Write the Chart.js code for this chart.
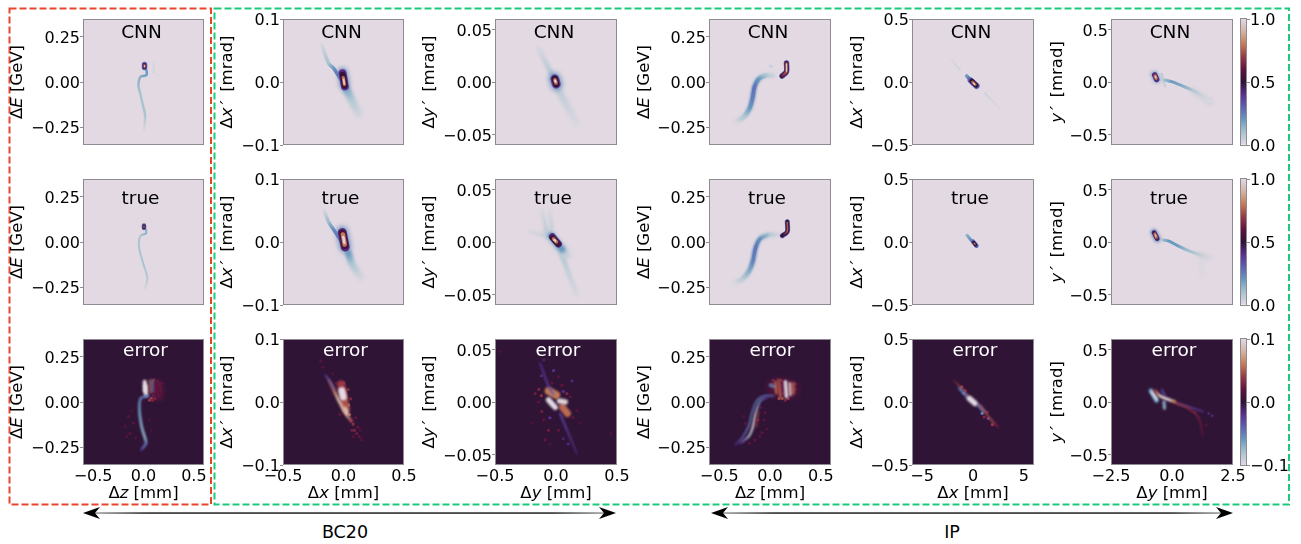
<!DOCTYPE html>
<html>
<head>
<meta charset="utf-8">
<script src="https://cdn.jsdelivr.net/npm/chart.js@4"></script>
<style>
  html, body { margin: 0; padding: 0; background: #fff; overflow: hidden; }
  #page { position: relative; width: 1301px; height: 544px; font-family: "DejaVu Sans", sans-serif; }
  #page canvas { position: absolute; }
  #frames { position: absolute; left: 0; top: 0; }
  .region { position: absolute; top: 522px; font-size: 17.5px; color: #000; transform: translateX(-50%); }
</style>
</head>
<body>
<div id="page">
  <svg id="frames" width="1301" height="544">
    <defs>
      <linearGradient id="a1" gradientUnits="userSpaceOnUse" x1="83" x2="616" y1="0" y2="0">
        <stop offset="0" stop-color="#aaa"/><stop offset="0.12" stop-color="#000"/><stop offset="0.88" stop-color="#000"/><stop offset="1" stop-color="#aaa"/>
      </linearGradient>
      <linearGradient id="a2" gradientUnits="userSpaceOnUse" x1="711" x2="1233" y1="0" y2="0">
        <stop offset="0" stop-color="#aaa"/><stop offset="0.12" stop-color="#000"/><stop offset="0.88" stop-color="#000"/><stop offset="1" stop-color="#aaa"/>
      </linearGradient>
    </defs>
    <rect x="9.5" y="8.5" width="201.5" height="496" fill="none" stroke="#e8452c" stroke-width="2" stroke-dasharray="7 3"/>
    <rect x="214.5" y="8.5" width="1074.5" height="496" fill="none" stroke="#1fc97c" stroke-width="2" stroke-dasharray="7 3"/>
    <rect x="90" y="512.4" width="520" height="1.3" fill="url(#a1)"/>
    <rect x="718" y="512.4" width="508" height="1.3" fill="url(#a2)"/>
    <polygon points="83,513 100,507 95,513 100,519" fill="#000"/>
    <polygon points="616,513 599,507 604,513 599,519" fill="#000"/>
    <polygon points="711,513 728,507 723,513 728,519" fill="#000"/>
    <polygon points="1233,513 1216,507 1221,513 1216,519" fill="#000"/>
  </svg>
  <div class="region" style="left:345px">BC20</div>
  <div class="region" style="left:952px">IP</div>
</div>

<script>
// axis ranges and ticks, one entry per column
const xLimits = [0.6, 0.5, 0.5, 0.6, 6, 2.5]
const yLimits = [0.35, 0.1, 0.06, 0.35, 0.5, 0.6]
const xTicks = [[-0.5, 0, 0.5], [-0.5, 0, 0.5], [-0.5, 0, 0.5], [-0.5, 0, 0.5], [-5, 0, 5], [-2.5, 0, 2.5]]
const yTicks = [[-0.25, 0, 0.25], [-0.1, 0, 0.1], [-0.05, 0, 0.05], [-0.25, 0, 0.25], [-0.5, 0, 0.5], [-0.5, 0, 0.5]]
const yDecimals = [2, 1, 2, 2, 1, 1]
const xDecimals = [1, 1, 1, 1, 0, 1]
const xTitles = ['Δ*z* [mm]', 'Δ*x* [mm]', 'Δ*y* [mm]', 'Δ*z* [mm]', 'Δ*x* [mm]', 'Δ*y* [mm]']
const yTitles = ['Δ*E* [GeV]', 'Δ*x\u2009′\u2009* [mrad]', 'Δ*y\u2009′\u2009* [mrad]', 'Δ*E* [GeV]', 'Δ*x\u2009′\u2009* [mrad]', '*y\u2009′\u2009* [mrad]']
const rowNames = ['CNN', 'true', 'error']

// colour bars
const barRanges = [[0, 1], [0, 1], [-0.1, 0.1]]
const barTicks = [[0, 0.5, 1], [0, 0.5, 1], [-0.1, 0, 0.1]]

// colormap
const mapStops = [0, 0.1, 0.2, 0.3, 0.4, 0.5, 0.6, 0.7, 0.8, 0.9, 1]
const mapColors = ['#e2d9e2', '#a9c4cf', '#6a9ac0', '#5c62b4', '#5c2f90', '#2f1436', '#60143d', '#993845', '#c67a55', '#d4b3a0', '#e2d9e2']

// every trace is a list of [x, y, value]
// column 1, BC20 z-E
const c1_cnn = [
  [[0.1, 0.11, 0.02], [0.1, 0.05, 0.03]],
  [[0.13, 0.04, 0.02], [0.15, 0.035, 0.02]],
  [[0.03, 0.065, 0.2], [0.03, 0.038, 0.2], [-0.03, 0.028, 0.15], [-0.05, -0.02, 0.12], [-0.03, -0.07, 0.1], [-0.01, -0.12, 0.1], [0.015, -0.18, 0.1], [0.012, -0.23, 0.05], [0.005, -0.27, 0.01]],
  [[0.01, 0.08, 0.3], [0.01, 0.097, 0.3]],
  [[0.01, 0.082, 0.47], [0.01, 0.095, 0.47]],
  [[0.01, 0.083, 0.72], [0.01, 0.094, 0.72]],
  [[0.01, 0.085, 0.95], [0.01, 0.091, 0.95]]
]
const c1_true = [
  [[0.025, 0.07, 0.15], [0.025, 0.048, 0.15], [-0.03, 0.033, 0.1], [-0.045, -0.026, 0.1], [-0.008, -0.11, 0.1], [0.038, -0.2, 0.08], [0.015, -0.26, 0.02]],
  [[0.005, 0.078, 0.3], [0.005, 0.092, 0.3]],
  [[0.005, 0.08, 0.5], [0.005, 0.09, 0.5]],
  [[0.005, 0.082, 0.75], [0.005, 0.088, 0.75]]
]
const c1_err = [
  [[0.13, 0.09, 0.018], [0.14, 0.04, 0.018]],
  [[0.012, 0.113, 0.1], [0.015, 0.06, 0.1]],
  [[0.02, 0.09, 0.1], [0.025, 0.04, 0.1]],
  [[0.064, 0.122, 0.06], [0.07, 0.05, 0.055]],
  [[0.09, 0.122, -0.06], [0.09, 0.057, -0.05]],
  [[0.048, 0.033, -0.05], [-0.028, 0.02, -0.05], [-0.04, -0.044, -0.06], [-0.018, -0.137, -0.07], [0.015, -0.2, -0.075], [0.025, -0.23, -0.05], [-0.018, -0.263, -0.03]]
]
const c1_err_spots = [
  [0.13, 0.094, 0.04], [0.163, 0.085, 0.03], [0.114, 0.057, 0.045], [0.147, 0.039, 0.03], [0.08, 0.02, 0.05], [0.114, 0.02, 0.04], [0.18, 0.104, 0.02], [0.104, 0.122, 0.035], [0.137, 0.113, 0.03],
  [0.12, 0.08, -0.02], [0.17, 0.06, 0.025], [0.1, 0.035, -0.02], [0.15, 0.1, -0.015], [0.06, 0.01, 0.04], [0.09, 0.01, 0.03],
  [-0.15, -0.08, 0.015], [-0.183, -0.137, 0.012], [-0.134, -0.174, 0.015], [-0.1, -0.118, 0.015], [-0.167, -0.192, 0.012], [-0.12, -0.05, 0.012], [-0.08, -0.2, 0.012], [0.06, -0.1, 0.012], [0.08, -0.16, 0.01]
]

// column 2, BC20 x-x'
const c2_cnn = [
  [[0.028, -0.013, 0.15], [0.069, -0.029, 0.08], [0.124, -0.05, 0.03]],
  [[-0.179, 0.059, 0.02], [-0.124, 0.03, 0.1], [-0.083, 0.022, 0.2], [-0.041, 0.01, 0.3], [0, -0.002, 0.3]],
  [[-0.008, 0.015, 0.22], [0.011, -0.006, 0.22]],
  [[-0.008, 0.014, 0.4], [0.011, -0.007, 0.4]],
  [[-0.006, 0.012, 0.52], [0.01, -0.006, 0.52]],
  [[-0.002, 0.007, 0.78], [0.008, -0.004, 0.78]],
  [[0.0015, 0.004, 0.97], [0.006, -0.003, 0.97]]
]
const c2_true = [
  [[0.041, -0.018, 0.2], [0.069, -0.034, 0.1], [0.137, -0.055, 0.03]],
  [[-0.16, 0.05, 0.02], [-0.124, 0.032, 0.12], [-0.083, 0.02, 0.22], [-0.041, 0.008, 0.3], [0, -0.005, 0.3]],
  [[-0.011, 0.016, 0.22], [0.014, -0.008, 0.22]],
  [[-0.01, 0.015, 0.42], [0.014, -0.008, 0.42]],
  [[-0.008, 0.014, 0.55], [0.012, -0.006, 0.55]],
  [[-0.005, 0.012, 0.8], [0.01, -0.004, 0.8]],
  [[-0.002, 0.008, 0.98], [0.007, -0.001, 0.98]]
]
const c2_err = [
  [[-0.02, 0.028, 0.04], [0.02, -0.012, 0.05]],
  [[-0.124, 0.035, 0.025], [-0.083, 0.02, 0.055], [-0.041, 0.003, 0.085], [0.028, -0.021, 0.075], [0.069, -0.031, 0.035]],
  [[-0.151, 0.043, -0.02], [-0.11, 0.032, -0.05], [-0.069, 0.019, -0.03]],
  [[-0.014, 0.018, 0.1], [-0.002, 0.008, 0.1]],
  [[0.014, -0.01, 0.09], [0.03, -0.018, 0.09]]
]
const c2_err_spots = [
  [0.06, -0.03, 0.035], [0.08, -0.035, 0.035], [0.09, -0.045, 0.03], [0.11, -0.05, 0.025], [0.07, -0.045, 0.025], [0.13, -0.055, 0.02], [0.12, -0.04, 0.02], [0.05, -0.02, 0.05],
  [-0.19, 0.065, 0.015], [-0.17, 0.055, 0.015], [0.04, 0.02, 0.03], [0, 0.03, 0.04], [0.06, 0.005, 0.03], [0.04, -0.005, 0.06], [-0.03, -0.02, 0.02], [0.1, -0.025, 0.02], [0.14, -0.045, 0.012], [0.15, -0.06, 0.015], [0.08, -0.055, 0.015], [-0.06, 0.03, 0.02], [-0.09, 0.045, 0.012]
]

// column 3, BC20 y-y'
const c3_cnn = [
  [[-0.143, 0.032, 0.02], [-0.034, 0.007, 0.08]],
  [[0.02, -0.008, 0.06], [0.17, -0.039, 0.015]],
  [[-0.012, 0.0035, 0.22], [0.004, -0.0025, 0.22]],
  [[-0.01, 0.003, 0.36], [0.002, -0.002, 0.36]],
  [[-0.01, 0.003, 0.5], [0.002, -0.002, 0.5]],
  [[-0.009, 0.002, 0.75], [0, -0.001, 0.75]],
  [[-0.008, 0.0015, 0.97], [-0.002, 0, 0.97]]
]
const c3_true = [
  [[-0.117, 0.029, 0.02], [-0.076, 0.011, 0.06]],
  [[-0.049, 0.029, 0.02], [-0.035, 0.013, 0.05]],
  [[-0.213, 0.01, 0.02], [-0.076, 0.005, 0.04]],
  [[0.046, -0.012, 0.08], [0.169, -0.05, 0.015]],
  [[-0.07, 0.009, 0.06], [0.08, -0.012, 0.06]],
  [[-0.04, 0.006, 0.2], [0.05, -0.007, 0.2]],
  [[-0.03, 0.005, 0.42], [0.02, -0.002, 0.42]],
  [[-0.03, 0.004, 0.53], [0.018, -0.002, 0.53]],
  [[-0.02, 0.003, 0.78], [0.004, 0, 0.78]],
  [[-0.015, 0.002, 0.97], [-0.005, 0.001, 0.97]]
]
const c3_err = [
  [[-0.06, 0.0105, 0.06], [0.001, 0.0067, 0.06]],
  [[0.053, -0.005, 0.055], [0.094, -0.011, 0.055]],
  [[-0.13, 0.037, -0.015], [-0.061, 0.015, -0.025], [-0.02, 0.007, -0.04]],
  [[0.034, -0.011, -0.03], [0.17, -0.049, -0.01]],
  [[-0.061, 0.002, 0.1], [-0.007, -0.005, 0.1]],
  [[0.029, 0.001, 0.095], [0.075, 0, 0.095]]
]
const c3_err_spots = [
  [-0.171, 0.008, 0.025], [-0.143, 0, 0.02], [-0.116, -0.009, 0.025], [-0.102, -0.017, 0.02], [0.089, 0.008, 0.03], [0.116, 0.005, 0.02], [0.171, -0.008, 0.015], [-0.061, -0.027, 0.025], [0.02, -0.027, 0.02],
  [-0.089, -0.036, 0.02], [-0.034, 0.018, 0.02], [0.048, 0.016, 0.02], [-0.46, 0.048, 0.012], [0.45, -0.03, 0.01], [0.1, -0.04, -0.015], [-0.12, 0.025, -0.015], [0.13, 0.02, -0.015], [-0.02, 0.03, -0.02],
  [-0.14, 0.012, 0.03], [-0.12, 0.006, 0.035], [0.14, -0.015, 0.02], [0.06, 0.01, -0.02], [-0.05, -0.015, -0.02], [0.2, -0.02, 0.012], [-0.2, -0.02, 0.012], [-0.05, -0.04, 0.012], [0.06, -0.035, -0.012], [-0.1, 0.04, -0.012], [0.02, 0.024, 0.015]
]

// column 4, IP z-E
const c4_cnn = [
  [[0.003, 0.089, 0.05], [0.02, 0.085, 0.03]],
  [[0.03, 0.037, 0.04], [-0.046, 0.037, 0.1], [-0.112, 0.017, 0.18], [-0.152, -0.026, 0.22], [-0.172, -0.09, 0.22], [-0.2, -0.146, 0.18], [-0.254, -0.192, 0.1], [-0.343, -0.226, 0.01]],
  [[-0.046, 0.037, 0.1], [-0.112, 0.017, 0.2], [-0.152, -0.026, 0.27], [-0.172, -0.09, 0.25], [-0.2, -0.146, 0.2], [-0.254, -0.192, 0.08]],
  [[0.162, 0.105, 0.33], [0.162, 0.057, 0.33], [0.118, 0.033, 0.33]],
  [[0.162, 0.105, 0.5], [0.162, 0.057, 0.5], [0.118, 0.033, 0.5]],
  [[0.162, 0.103, 0.75], [0.162, 0.057, 0.75], [0.125, 0.036, 0.65]],
  [[0.162, 0.1, 0.95], [0.162, 0.06, 0.95]]
]
const c4_true = [
  [[0.07, 0.043, 0.03], [-0.028, 0.039, 0.1], [-0.1, 0.017, 0.18], [-0.143, -0.035, 0.22], [-0.17, -0.109, 0.22], [-0.21, -0.165, 0.15], [-0.275, -0.207, 0.07], [-0.358, -0.229, 0.01]],
  [[-0.028, 0.039, 0.12], [-0.1, 0.017, 0.22], [-0.143, -0.035, 0.27], [-0.17, -0.109, 0.24], [-0.21, -0.165, 0.15], [-0.275, -0.207, 0.06]],
  [[0.17, 0.113, 0.33], [0.17, 0.057, 0.33], [0.12, 0.035, 0.33]],
  [[0.17, 0.113, 0.5], [0.17, 0.057, 0.5], [0.12, 0.035, 0.5]],
  [[0.17, 0.11, 0.75], [0.17, 0.058, 0.75], [0.135, 0.04, 0.6]]
]
const c4_err = [
  [[0.06, 0.08, 0.018], [0.2, 0.07, 0.018]],
  [[0.086, 0.122, 0.045], [0.102, 0.03, 0.05]],
  [[0.228, 0.104, 0.05], [0.228, 0.048, 0.05]],
  [[0.003, 0.094, -0.05], [0.043, 0.085, -0.05]],
  [[0.053, 0.113, 0.06], [0.063, 0.048, 0.06]],
  [[0.152, 0.113, 0.1], [0.162, 0.03, 0.1]],
  [[0.195, 0.104, 0.09], [0.2, 0.039, 0.09]],
  [[0.036, 0.035, -0.04], [-0.063, 0.033, -0.05], [-0.135, 0.002, -0.05], [-0.178, -0.063, -0.05], [-0.211, -0.137, -0.05], [-0.277, -0.202, -0.04], [-0.343, -0.239, -0.015]],
  [[-0.03, 0.026, -0.02], [-0.096, 0.007, -0.05], [-0.145, -0.072, -0.09], [-0.172, -0.146, -0.1], [-0.211, -0.192, -0.08], [-0.294, -0.229, -0.02]],
  [[-0.112, -0.054, 0.04], [-0.135, -0.137, 0.04]]
]
const c4_err_spots = [
  [0.02, 0.1, 0.04], [0.11, 0.12, 0.04], [0.13, 0.05, 0.04], [0.12, 0.02, 0.05], [0.09, 0.02, 0.05], [0.18, 0.02, 0.04], [0.25, 0.07, 0.03], [0.03, 0.12, 0.03], [0.12, 0.09, -0.04], [0.14, 0.11, 0.03], [0.25, 0.1, 0.03], [0.15, 0.01, 0.03],
  [-0.06, -0.1, 0.015], [-0.03, -0.15, 0.015], [-0.08, -0.17, 0.018], [-0.1, -0.19, 0.015], [-0.05, -0.06, 0.015], [-0.24, -0.12, 0.015], [-0.26, -0.08, 0.012], [-0.12, -0.1, 0.025], [-0.09, -0.03, 0.015], [-0.15, -0.21, 0.02], [-0.2, -0.23, 0.015]
]

// column 5, IP x-x'
const c5_cnn = [
  [[-2.1, 0.175, 0.02], [-1.28, 0.095, 0.03]],
  [[1.18, -0.09, 0.04], [2.66, -0.21, 0.01]],
  [[-0.62, 0.048, 0.2], [-0.23, 0.016, 0.3], [0.2, -0.016, 0.3]],
  [[-0.23, 0.013, 0.3], [0.36, -0.032, 0.3]],
  [[-0.13, 0.008, 0.5], [0.3, -0.026, 0.5]],
  [[-0.05, 0, 0.75], [0.22, -0.02, 0.75]],
  [[0.03, -0.008, 0.97], [0.16, -0.019, 0.97]]
]
const c5_true = [
  [[-0.59, 0.053, 0.15], [-0.2, 0.016, 0.22], [0.39, -0.032, 0.2]],
  [[0, 0.003, 0.3], [0.33, -0.029, 0.3]],
  [[0.07, -0.003, 0.5], [0.26, -0.024, 0.5]],
  [[0.12, -0.01, 0.8], [0.2, -0.017, 0.8]]
]
const c5_err = [
  [[-1.94, 0.175, 0.02], [-0.95, 0.095, 0.05], [-0.5, 0.05, 0.05]],
  [[-1.34, 0.109, -0.05], [-0.62, 0.042, -0.05]],
  [[0.52, -0.024, -0.05], [1.08, -0.077, -0.05]],
  [[0.69, -0.024, 0.045], [1.84, -0.148, 0.045], [2.5, -0.2, 0.02]],
  [[-0.36, 0.029, 0.1], [0.2, -0.011, 0.1]]
]
const c5_err_spots = [
  [-1.1, 0.12, 0.04], [-0.9, 0.07, -0.04], [0.9, -0.09, -0.05], [1.4, -0.08, 0.03], [1.1, -0.12, 0.03], [1.5, -0.13, -0.03], [-0.75, 0.09, 0.03], [1.9, -0.18, 0.04]
]

// column 6, IP y-y'
const c6_cnn = [
  [[0.87, -0.082, 0.03], [1.56, -0.187, 0.03]],
  [[-0.42, 0.076, 0.06], [-0.29, -0.038, 0.05]],
  [[-0.29, 0.019, 0.12], [-0.01, 0.003, 0.2], [0.4, -0.035, 0.16], [0.87, -0.082, 0.08], [1.28, -0.14, 0.03], [1.56, -0.187, 0.01]],
  [[-0.72, 0.07, 0.15], [-0.62, 0.025, 0.15]],
  [[-0.71, 0.067, 0.42], [-0.63, 0.025, 0.42]],
  [[-0.69, 0.058, 0.78], [-0.65, 0.035, 0.78]],
  [[-0.68, 0.052, 0.97], [-0.66, 0.04, 0.97]]
]
const c6_true = [
  [[1.22, -0.117, 0.015], [1.22, -0.31, 0.012]],
  [[1.08, -0.117, 0.03], [1.56, -0.155, 0.02]],
  [[-0.355, 0.019, 0.12], [-0.15, 0.01, 0.2], [0.19, -0.029, 0.2], [0.6, -0.076, 0.12], [1.08, -0.117, 0.06], [1.56, -0.155, 0.015]],
  [[-0.74, 0.092, 0.22], [-0.6, 0.029, 0.22]],
  [[-0.73, 0.088, 0.45], [-0.61, 0.033, 0.45]],
  [[-0.7, 0.075, 0.78], [-0.64, 0.045, 0.78]],
  [[-0.68, 0.066, 0.97], [-0.66, 0.054, 0.97]]
]
const c6_err = [
  [[-0.87, 0.108, -0.06], [-0.63, 0.013, -0.06]],
  [[-0.83, 0.098, -0.1], [-0.63, 0.025, -0.1]],
  [[-0.33, 0.003, -0.07], [-0.31, -0.06, -0.07]],
  [[-0.42, 0.114, -0.03], [-0.29, 0.067, -0.03]],
  [[0.19, -0.013, -0.03], [0.74, -0.05, -0.03], [1.28, -0.092, -0.02]],
  [[0.12, -0.006, 0.04], [0.67, -0.06, 0.035], [1.08, -0.146, 0.025], [1.28, -0.33, 0.012]],
  [[-0.7, 0.108, 0.04], [-0.49, 0.057, 0.09], [-0.15, 0.025, 0.1], [0.12, 0.003, 0.06]]
]
const c6_err_spots = [
  [1.5, -0.11, -0.012], [1.65, -0.13, -0.012], [1.4, -0.22, 0.012], [0.95, -0.1, 0.02]
]

// line widths in px for the traces above, same order
const widths = {
  c1_cnn: [1.5, 1.5, 2.5, 5.5, 3.8, 2.4, 1.2], c1_true: [2, 4.5, 3, 1.5], c1_err: [12, 4, 4, 1.6, 1.6, 2.6],
  c2_cnn: [8, 3.5, 9.5, 8, 6, 3.2, 1.8], c2_true: [7, 3.5, 11, 9, 7, 4.5, 2.6], c2_err: [8, 3, 1.6, 7, 3],
  c3_cnn: [5, 7, 11, 9, 6.5, 4, 2.2], c3_true: [4, 4, 4, 5, 9, 7, 7, 5.5, 3.5, 2.2], c3_err: [8, 7, 2, 2, 5.5, 5.5],
  c4_cnn: [3, 5, 3.6, 5.5, 4, 2.6, 1.2], c4_true: [5, 3.2, 5, 3.6, 1.6], c4_err: [16, 3, 3, 3, 2, 3.5, 2.5, 1.6, 2, 1.5],
  c5_cnn: [2, 2, 3.5, 6, 4.8, 3, 1.5], c5_true: [3, 4.5, 3.2, 1.4], c5_err: [1.6, 2.5, 3, 2, 5.5],
  c6_cnn: [7, 2.5, 3, 7.5, 5.5, 3.2, 1.5], c6_true: [5, 6, 3, 6.5, 4.8, 3, 1.2], c6_err: [4.5, 2.5, 3, 2, 1.5, 2, 3]
}

const traces = [
  [c1_cnn, c1_true, c1_err], [c2_cnn, c2_true, c2_err], [c3_cnn, c3_true, c3_err],
  [c4_cnn, c4_true, c4_err], [c5_cnn, c5_true, c5_err], [c6_cnn, c6_true, c6_err]
]
const spots = [c1_err_spots, c2_err_spots, c3_err_spots, c4_err_spots, c5_err_spots, c6_err_spots]

// page layout
const colLeft = [83, 283, 495, 709, 912, 1111]
const colWidth = [121, 121, 122, 122, 122, 122]
const rowTop = [19, 179, 339]
const panelHeight = 126
const yTitleX = [18, 228, 430, 645, 858, 1058]
const tagOffset = [-2, -3, 2]
const tagY = [14, 20, 12]
const marginLeft = 80, marginRight = 22, marginTop = 12, marginBottom = 44
const fontFamily = '"DejaVu Sans", sans-serif'
const spineColor = '#8f8a94'

function hexRgb(h) {
  return [1, 3, 5].map(i => parseInt(h.slice(i, i + 2), 16))
}

function mapColor(t) {
  t = Math.max(0, Math.min(1, t))
  let i = 0
  while (i < mapStops.length - 2 && t > mapStops[i + 1]) i++
  const f = (t - mapStops[i]) / (mapStops[i + 1] - mapStops[i])
  const a = hexRgb(mapColors[i]), b = hexRgb(mapColors[i + 1])
  return 'rgb(' + a.map((c, k) => Math.round(c + (b[k] - c) * f)).join(',') + ')'
}

function fmt(v, dec) {
  return v.toFixed(dec).replace('-', '−')
}

function drawRuns(ctx, label, x, y, size) {
  const raw = label.split('*')
  let total = 0
  const fonts = raw.map((p, i) => (i % 2 ? 'italic ' : '') + size + 'px ' + fontFamily)
  raw.forEach((p, i) => { ctx.font = fonts[i]; total += ctx.measureText(p).width })
  let cx = x - total / 2
  ctx.textAlign = 'left'
  ctx.textBaseline = 'middle'
  raw.forEach((p, i) => {
    ctx.font = fonts[i]
    ctx.fillText(p, cx, y)
    cx += ctx.measureText(p).width
  })
}

const panelDecor = {
  id: 'panelDecor',
  beforeDraw(chart, args, opts) {
    const a = chart.chartArea
    chart.ctx.fillStyle = opts.background
    chart.ctx.fillRect(a.left, a.top, a.width, a.height)
  },
  beforeDatasetsDraw(chart) {
    chart.ctx.save()
  },
  beforeDatasetDraw(chart, args) {
    chart.ctx.filter = 'blur(' + chart.data.datasets[args.index].softness + 'px)'
  },
  afterDatasetsDraw(chart) {
    chart.ctx.restore()
  },
  afterDraw(chart, args, opts) {
    const ctx = chart.ctx, a = chart.chartArea
    ctx.save()
    ctx.strokeStyle = spineColor
    ctx.lineWidth = 1
    ctx.strokeRect(a.left + 0.5, a.top + 0.5, a.width - 1, a.height - 1)
    ctx.fillStyle = opts.tagColor
    ctx.font = '18.5px ' + fontFamily
    ctx.textAlign = 'center'
    ctx.textBaseline = 'middle'
    ctx.fillText(opts.tag, (a.left + a.right) / 2 + opts.tagDx, a.top + opts.tagDy)
    ctx.fillStyle = '#000'
    if (opts.xTitle) drawRuns(ctx, opts.xTitle, (a.left + a.right) / 2, a.bottom + 29, 16.5)
    ctx.translate(opts.yTitleX, (a.top + a.bottom) / 2)
    ctx.rotate(-Math.PI / 2)
    drawRuns(ctx, opts.yTitle, 0, 0, 16.5)
    ctx.restore()
  }
}

// the colour runs along the trace, from its first to its last point
function traceGradient(chart, tr, toT) {
  if (!chart.chartArea) return mapColor(toT(tr[0][2]))
  const sx = chart.scales.x, sy = chart.scales.y
  const p = tr.map(([x, y]) => [sx.getPixelForValue(x), sy.getPixelForValue(y)])
  const a = p[0], b = p[p.length - 1]
  if (!isFinite(a[0] + a[1] + b[0] + b[1])) return mapColor(toT(tr[0][2]))
  const dx = b[0] - a[0], dy = b[1] - a[1]
  const len = dx * dx + dy * dy || 1
  const g = chart.ctx.createLinearGradient(a[0], a[1], b[0], b[1])
  tr.forEach((pt, i) => {
    const t = ((p[i][0] - a[0]) * dx + (p[i][1] - a[1]) * dy) / len
    g.addColorStop(Math.max(0, Math.min(1, t)), mapColor(toT(pt[2])))
  })
  return g
}

function buildDatasets(col, row) {
  const range = barRanges[row]
  const toT = v => (v - range[0]) / (range[1] - range[0])
  const key = 'c' + (col + 1) + '_' + ['cnn', 'true', 'err'][row]
  const base = row === 2 ? 0.9 : 0.7
  const sets = []
  if (row === 2) {
    sets.push({
      data: spots[col].map(([x, y, v]) => ({ x, y, v })),
      showLine: false,
      pointRadius: 1.6,
      pointBorderWidth: 0,
      softness: 0.6,
      pointBackgroundColor: c => mapColor(toT(c.raw.v))
    })
  }
  traces[col][row].forEach((tr, i) => {
    const w = widths[key][i]
    const level = Math.max(...tr.map(pt => Math.abs(pt[2]))) / range[1]
    sets.push({
      data: tr.map(([x, y, v]) => ({ x, y, v })),
      showLine: true,
      tension: 0.3,
      pointRadius: 0,
      borderWidth: w,
      borderCapStyle: 'round',
      borderJoinStyle: 'round',
      softness: level < 0.25 ? Math.max(base, w * 0.22) : base,
      borderColor: c => traceGradient(c.chart, tr, toT)
    })
  })
  // chart.js paints the last dataset first, the cores have to end up on top
  return sets.reverse()
}

function makeCanvas(left, top, w, h) {
  const el = document.createElement('canvas')
  el.width = w
  el.height = h
  el.style.left = left + 'px'
  el.style.top = top + 'px'
  el.style.width = w + 'px'
  el.style.height = h + 'px'
  document.getElementById('page').appendChild(el)
  return el
}

function makePanel(col, row) {
  const pw = colWidth[col]
  const left = colLeft[col] - marginLeft
  const top = rowTop[row] - marginTop
  const el = makeCanvas(left, top, marginLeft + pw + marginRight, marginTop + panelHeight + marginBottom)
  const bottomRow = row === 2
  new Chart(el, {
    type: 'scatter',
    data: { datasets: buildDatasets(col, row) },
    plugins: [panelDecor],
    options: {
      responsive: false,
      animation: false,
      events: [],
      layout: { autoPadding: false, padding: { left: 0, right: marginRight, top: marginTop, bottom: 0 } },
      scales: {
        x: {
          type: 'linear',
          min: -xLimits[col],
          max: xLimits[col],
          afterBuildTicks: s => { s.ticks = xTicks[col].map(value => ({ value })) },
          afterFit: s => { s.height = marginBottom },
          border: { display: false },
          grid: { display: false, drawTicks: false },
          ticks: {
            display: bottomRow,
            autoSkip: false,
            maxRotation: 0,
            padding: 2,
            color: '#000',
            font: { size: 16, family: fontFamily },
            callback: v => fmt(v, xDecimals[col])
          }
        },
        y: {
          type: 'linear',
          min: -yLimits[col],
          max: yLimits[col],
          afterBuildTicks: s => { s.ticks = yTicks[col].map(value => ({ value })) },
          afterFit: s => { s.width = marginLeft },
          border: { display: false },
          grid: { drawOnChartArea: false, drawTicks: true, tickLength: 3, tickColor: spineColor },
          ticks: {
            autoSkip: false,
            padding: 0,
            labelOffset: 2,
            color: '#000',
            font: { size: 16, family: fontFamily },
            callback: v => fmt(v, yDecimals[col])
          }
        }
      },
      plugins: {
        legend: { display: false },
        tooltip: { enabled: false },
        panelDecor: {
          background: bottomRow ? mapColor(0.5) : mapColor(0),
          tag: rowNames[row],
          tagColor: bottomRow ? '#fff' : '#000',
          tagDx: tagOffset[row],
          tagDy: tagY[row],
          xTitle: bottomRow ? xTitles[col] : null,
          yTitle: yTitles[col],
          yTitleX: yTitleX[col] - left
        }
      }
    }
  })
}

function makeColorbar(row) {
  const barW = 7, pad = 14
  const el = makeCanvas(1240, rowTop[row] - pad, barW + 50, panelHeight + pad * 2)
  const range = barRanges[row]
  new Chart(el, {
    type: 'bar',
    data: {
      labels: [''],
      datasets: [{
        data: [range],
        barPercentage: 1,
        categoryPercentage: 1,
        backgroundColor: c => {
          const a = c.chart.chartArea
          if (!a) return '#ccc'
          const g = c.chart.ctx.createLinearGradient(0, a.bottom, 0, a.top)
          mapStops.forEach((s, i) => g.addColorStop(s, mapColors[i]))
          return g
        }
      }]
    },
    plugins: [{
      id: 'barFrame',
      afterDraw(chart) {
        const a = chart.chartArea
        chart.ctx.strokeStyle = spineColor
        chart.ctx.lineWidth = 1
        chart.ctx.strokeRect(a.left + 0.5, a.top - 0.5, a.width - 1, a.height + 1)
      }
    }],
    options: {
      responsive: false,
      animation: false,
      events: [],
      layout: { autoPadding: false, padding: { left: 0, right: 0, top: pad, bottom: pad } },
      scales: {
        x: { display: false },
        y: {
          position: 'right',
          min: range[0],
          max: range[1],
          afterBuildTicks: s => { s.ticks = barTicks[row].map(value => ({ value })) },
          afterFit: s => { s.width = 50 },
          border: { display: false },
          grid: { drawOnChartArea: false, drawTicks: true, tickLength: 3, tickColor: spineColor },
          ticks: {
            autoSkip: false,
            padding: 0,
            labelOffset: 2,
            color: '#000',
            font: { size: 16, family: fontFamily },
            callback: v => fmt(v, 1)
          }
        }
      },
      plugins: { legend: { display: false }, tooltip: { enabled: false } }
    }
  })
}

for (let col = 0; col < 6; col++) {
  for (let row = 0; row < 3; row++) makePanel(col, row)
}
for (let row = 0; row < 3; row++) makeColorbar(row)
</script>
</body>
</html>
